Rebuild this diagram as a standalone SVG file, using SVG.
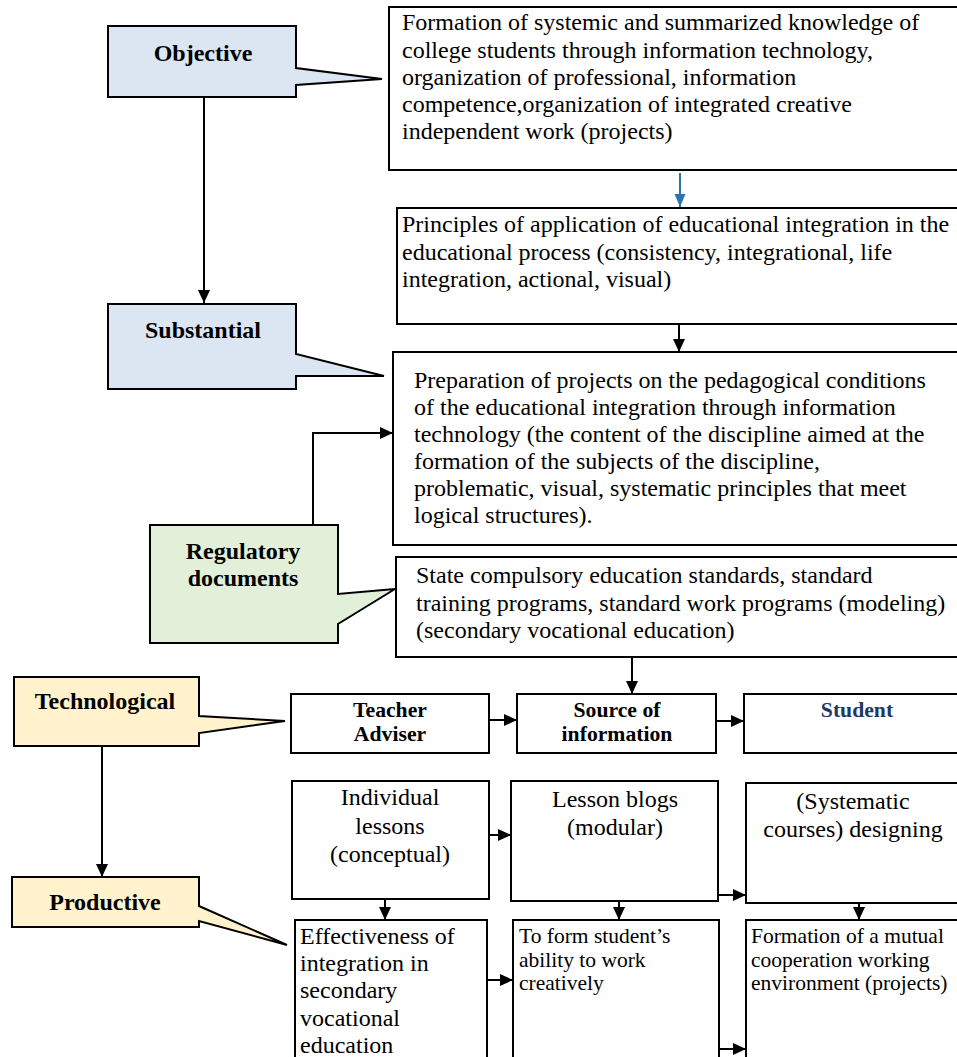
<svg xmlns="http://www.w3.org/2000/svg" width="957" height="1057" viewBox="0 0 957 1057">
<defs>
<marker id="ah" markerUnits="userSpaceOnUse" markerWidth="14" markerHeight="14" viewBox="0 0 14 14" refX="13" refY="7" orient="auto"><path d="M0,1 L13,7 L0,13 Z" fill="#000"/></marker>
<marker id="ahb" markerUnits="userSpaceOnUse" markerWidth="14" markerHeight="14" viewBox="0 0 14 14" refX="13" refY="7" orient="auto"><path d="M0,1.5 L13,7 L0,12.5 Z" fill="#2e74b5"/></marker>
<style>
.box{fill:#fff;stroke:#000;stroke-width:2}
.blue{fill:#dce6f2;stroke:#000;stroke-width:2;stroke-linejoin:miter}
.green{fill:#e2efd9;stroke:#000;stroke-width:2}
.yellow{fill:#fff2cc;stroke:#000;stroke-width:2}
.t{font-family:"Liberation Serif","Times New Roman",serif;font-size:24px;fill:#000}
.ts{font-family:"Liberation Serif","Times New Roman",serif;font-size:21.5px;fill:#000}
.lb{font-family:"Liberation Serif","Times New Roman",serif;font-size:24px;font-weight:bold;fill:#000;text-anchor:middle}
.hb{font-family:"Liberation Serif","Times New Roman",serif;font-size:21.7px;font-weight:bold;fill:#000;text-anchor:middle}
.c{text-anchor:middle}
.ln{stroke:#000;stroke-width:2;fill:none}
</style>
</defs>

<g id="connectors">
<line class="ln" x1="204" y1="97" x2="204" y2="303" marker-end="url(#ah)"/>
<line x1="680" y1="173" x2="680" y2="207" stroke="#2e74b5" stroke-width="2" marker-end="url(#ahb)"/>
<line class="ln" x1="679" y1="324" x2="679" y2="352" marker-end="url(#ah)"/>
<polyline class="ln" points="313,524 313,433 393,433" marker-end="url(#ah)"/>
<line class="ln" x1="632" y1="657" x2="632" y2="694" marker-end="url(#ah)"/>
<line class="ln" x1="489" y1="720" x2="517" y2="720" marker-end="url(#ah)"/>
<line class="ln" x1="716" y1="721" x2="744" y2="721" marker-end="url(#ah)"/>
<line class="ln" x1="102" y1="746" x2="102" y2="877" marker-end="url(#ah)"/>
<line class="ln" x1="489" y1="835" x2="511" y2="835" marker-end="url(#ah)"/>
<line class="ln" x1="718" y1="895" x2="746" y2="895" marker-end="url(#ah)"/>
<line class="ln" x1="385" y1="899" x2="385" y2="920" marker-end="url(#ah)"/>
<line class="ln" x1="619" y1="901" x2="619" y2="920" marker-end="url(#ah)"/>
<line class="ln" x1="859" y1="903" x2="859" y2="920" marker-end="url(#ah)"/>
<line class="ln" x1="487" y1="980" x2="513" y2="980" marker-end="url(#ah)"/>
<line class="ln" x1="719" y1="1049" x2="746" y2="1049" marker-end="url(#ah)"/>
</g>

<g id="objective">
<path class="blue" d="M108,26 H296 V68 L382,79 L296,85 V97 H108 Z"/>
<text class="lb" x="203" y="61">Objective</text>
</g>

<g id="goal">
<rect class="box" x="389" y="7" width="580" height="163"/>
<text class="t" x="402" y="30">Formation of systemic and summarized knowledge of<tspan x="402" dy="27.5">college students through information technology,</tspan><tspan x="402" dy="27">organization of professional, information</tspan><tspan x="402" dy="27">competence,organization of integrated creative</tspan><tspan x="402" dy="27">independent work (projects)</tspan></text>
</g>

<g id="principles">
<rect class="box" x="397" y="208" width="572" height="116"/>
<text class="t" x="402" y="232">Principles of application of educational integration in the<tspan x="402" dy="28">educational process (consistency, integrational, life</tspan><tspan x="402" dy="27">integration, actional, visual)</tspan></text>
</g>

<g id="substantial">
<path class="blue" d="M108,304 H296 V354 L384,376 L296,376 V389 H108 Z"/>
<text class="lb" x="203" y="338">Substantial</text>
</g>

<g id="preparation">
<rect class="box" x="393" y="352" width="576" height="193"/>
<text class="t" x="414" y="388">Preparation of projects on the pedagogical conditions<tspan x="414" dy="27">of the educational integration through information</tspan><tspan x="414" dy="27">technology (the content of the discipline aimed at the</tspan><tspan x="414" dy="27">formation of the subjects of the discipline,</tspan><tspan x="414" dy="27">problematic, visual, systematic principles that meet</tspan><tspan x="414" dy="27">logical structures).</tspan></text>
</g>

<g id="regulatory">
<path class="green" d="M150,525 H338 V594 L395,589 L338,624 V643 H150 Z"/>
<text class="lb" x="243" y="559">Regulatory<tspan x="243" dy="27">documents</tspan></text>
</g>

<g id="standards">
<rect class="box" x="396" y="557" width="573" height="100"/>
<text class="t" x="416" y="583">State compulsory education standards, standard<tspan x="416" dy="27.5">training programs, standard work programs (modeling)</tspan><tspan x="416" dy="27.5">(secondary vocational education)</tspan></text>
</g>

<g id="technological">
<path class="yellow" d="M14,677 H199 V716 L285,721 L199,733 V746 H14 Z"/>
<text class="lb" x="105" y="709">Technological</text>
</g>

<g id="teacher">
<rect class="box" x="291" y="694" width="198" height="59"/>
<text class="hb" x="390" y="717">Teacher<tspan x="390" dy="24">Adviser</tspan></text>
</g>

<g id="source">
<rect class="box" x="517" y="694" width="199" height="59"/>
<text class="hb" x="617" y="717">Source of<tspan x="617" dy="24">information</tspan></text>
</g>

<g id="student">
<rect class="box" x="744" y="694" width="225" height="59"/>
<text class="hb" x="857" y="717" style="fill:#1f3864">Student</text>
</g>

<g id="productive">
<path class="yellow" d="M12,877 H199 V906 L287,945 L199,921 V927 H12 Z"/>
<text class="lb" x="105" y="910">Productive</text>
</g>

<g id="individual">
<rect class="box" x="292" y="781" width="197" height="118"/>
<text class="t c" x="390" y="805">Individual<tspan x="390" dy="28.5">lessons</tspan><tspan x="390" dy="28.5">(conceptual)</tspan></text>
</g>

<g id="blogs">
<rect class="box" x="511" y="781" width="207" height="120"/>
<text class="t c" x="615" y="807">Lesson blogs<tspan x="615" dy="28">(modular)</tspan></text>
</g>

<g id="systematic">
<rect class="box" x="746" y="783" width="223" height="120"/>
<text class="t c" x="853" y="809">(Systematic<tspan x="853" dy="28">courses) designing</tspan></text>
</g>

<g id="effectiveness">
<rect class="box" x="295" y="920" width="192" height="150"/>
<text class="t" x="300" y="944">Effectiveness of<tspan x="300" dy="27.2">integration in</tspan><tspan x="300" dy="27.2">secondary</tspan><tspan x="300" dy="27.2">vocational</tspan><tspan x="300" dy="27">education</tspan></text>
</g>

<g id="creative">
<rect class="box" x="513" y="920" width="206" height="150"/>
<text class="ts" x="519" y="943">To form student’s<tspan x="519" dy="23.5">ability to work</tspan><tspan x="519" dy="23.5">creatively</tspan></text>
</g>

<g id="cooperation">
<rect class="box" x="746" y="920" width="223" height="150"/>
<text class="ts" x="751" y="943">Formation of a mutual<tspan x="751" dy="23.5">cooperation working</tspan><tspan x="751" dy="23.5">environment (projects)</tspan></text>
</g>
</svg>
